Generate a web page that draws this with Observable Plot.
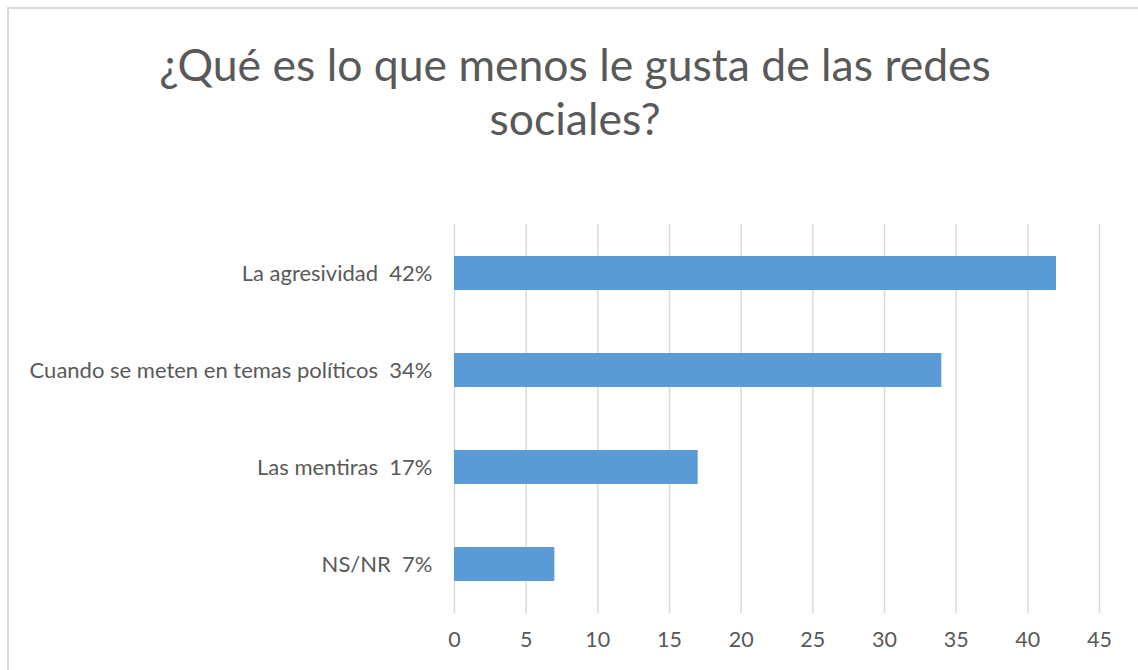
<!DOCTYPE html>
<html>
<head>
<meta charset="utf-8">
<script src="https://cdn.jsdelivr.net/npm/d3@7"></script>
<script src="https://cdn.jsdelivr.net/npm/@observablehq/plot@0.6"></script>
<style>
  html, body { margin: 0; padding: 0; background: #fff; }
  #frame { position: absolute; left: 7px; top: 7px; width: 1140px; height: 700px; border-left: 2px solid #d9d9d9; border-top: 2px solid #d9d9d9; box-sizing: border-box; }
  #title { position: absolute; left: 0; top: 37px; width: 1150px; text-align: center; font-family: Lato, sans-serif; font-size: 44.5px; line-height: 54px; color: #595959; }
  #chart { position: absolute; left: 0; top: 210px; }
  #chart text { font-family: Lato, sans-serif; }
</style>
</head>
<body>
<div id="frame"></div>
<div id="title">¿Qué es lo que menos le gusta de las redes<br>sociales?</div>
<div id="chart"></div>
<script>
const categories = ["La agresividad", "Cuando se meten en temas políticos", "Las mentiras", "NS/NR"];
const values = [42, 34, 17, 7];
const percentLabels = ["42%", "34%", "17%", "7%"];
const xTicks = [0, 5, 10, 15, 20, 25, 30, 35, 40, 45];

const data = categories.map((c, i) => ({
  label: c + "\u00a0\u00a0" + percentLabels[i],
  value: values[i]
}));

const plot = Plot.plot({
  width: 1138,
  height: 460,
  marginLeft: 454,
  marginRight: 39,
  marginTop: 14,
  marginBottom: 57,
  style: { fontFamily: "Lato, sans-serif", color: "#595959", background: "transparent" },
  x: { domain: [0, 45], ticks: xTicks, label: null },
  y: { domain: data.map(d => d.label), paddingInner: 0.65, paddingOuter: 0.325, label: null },
  marks: [
    Plot.gridX(xTicks, { stroke: "#d9d9d9", strokeOpacity: 1, strokeWidth: 1.5 }),
    Plot.barX(data, { y: "label", x: "value", fill: "#5b9bd5" }),
    Plot.axisX({ ticks: xTicks, tickSize: 0, tickPadding: 18, fontSize: 21.5, fill: "#595959", label: null }),
    Plot.axisY({ tickSize: 0, tickPadding: 22, fontSize: 22, fill: "#595959", label: null })
  ]
});
document.getElementById("chart").appendChild(plot);
</script>
</body>
</html>
